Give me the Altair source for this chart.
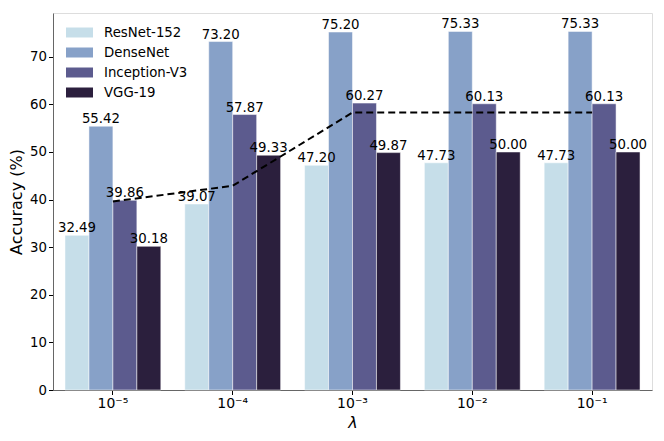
import altair as alt
import pandas as pd

groups = ["10⁻⁵", "10⁻⁴", "10⁻³", "10⁻²", "10⁻¹"]
models = ["ResNet-152", "DenseNet", "Inception-V3", "VGG-19"]
colors = ["#c6dee9", "#87a1c8", "#5c5b8e", "#2b1f3d"]
resnet = [32.49, 39.07, 47.20, 47.73, 47.73]
densenet = [55.42, 73.20, 75.20, 75.33, 75.33]
inception = [39.86, 57.87, 60.27, 60.13, 60.13]
vgg = [30.18, 49.33, 49.87, 50.00, 50.00]
trend = [39.6, 42.9, 58.3, 58.3, 58.3]

series = [resnet, densenet, inception, vgg]
rows = []
for m, vals in zip(models, series):
    for g, v in zip(groups, vals):
        rows.append({"lam": g, "model": m, "acc": v, "label": f"{v:.2f}"})
df = pd.DataFrame(rows)
tdf = pd.DataFrame({"lam": groups, "acc": trend})

FONT = "DejaVu Sans"
FS = 13.3

x = alt.X("lam:N", sort=groups, title="λ",
          scale=alt.Scale(paddingInner=0.2, paddingOuter=0.1),
          axis=alt.Axis(labelAngle=0, labelFontSize=14, titleFontSize=16,
                        titleFontStyle="italic", titleFontWeight="normal",
                        labelColor="black", titleColor="black", tickColor="black",
                        domainColor="#666666", labelFont=FONT, titleFont=FONT,
                        titlePadding=4, labelPadding=2, tickSize=4.5))
y = alt.Y("acc:Q", title="Accuracy (%)",
          scale=alt.Scale(domain=[0, 79.2], nice=False),
          axis=alt.Axis(values=[0, 10, 20, 30, 40, 50, 60, 70], grid=False,
                        labelFontSize=FS, titleFontSize=16, titleFontWeight="normal",
                        labelColor="black", titleColor="black", tickColor="black",
                        domainColor="#666666", labelFont=FONT, titleFont=FONT,
                        titlePadding=5, labelPadding=2, tickSize=4.5))
xoff = alt.XOffset("model:N", sort=models, scale=alt.Scale(paddingInner=0))
color = alt.Color("model:N", sort=models,
                  scale=alt.Scale(domain=models, range=colors),
                  legend=alt.Legend(title=None, orient="none", legendX=13, legendY=6,
                                    symbolType="M-1,-0.37H1V0.37H-1Z",
                                    symbolSize=729, symbolStrokeWidth=0,
                                    labelFontSize=FS, labelFont=FONT, labelColor="black",
                                    rowPadding=-7.2, symbolOffset=0, labelOffset=11))

bars = alt.Chart(df).mark_bar(stroke="white", strokeWidth=0.5).encode(
    x=x, y=y, xOffset=xoff, color=color)
texts = alt.Chart(df).mark_text(baseline="bottom", dy=0, fontSize=FS, font=FONT,
                                color="black").encode(
    x=alt.X("lam:N", sort=groups), y="acc:Q", xOffset=xoff, text="label:N")
line = alt.Chart(tdf).mark_line(color="black", strokeDash=[7, 4], strokeWidth=2).encode(
    x=alt.X("lam:N", sort=groups), y="acc:Q")

chart = alt.layer(bars, line, texts).properties(
    width=648, height=425,
    autosize=alt.AutoSizeParams(type="fit", contains="padding"),
    padding={"left": 0, "top": 5, "right": 4, "bottom": 2},
).configure_view(stroke="#666666", strokeWidth=1).configure(background="white")

chart.save("out.html", embed_options={"renderer": "svg", "actions": False})
